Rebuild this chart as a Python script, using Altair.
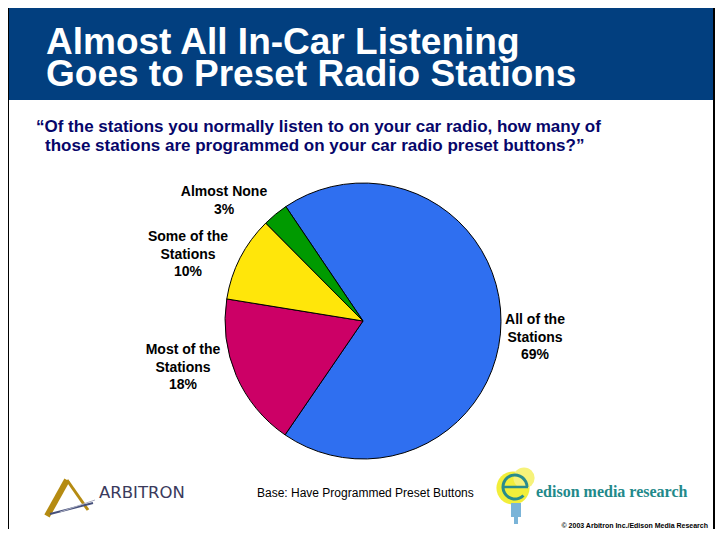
import math
import altair as alt
import pandas as pd

# ---- data ----
categories = ["All of the Stations", "Most of the Stations", "Some of the Stations", "Almost None"]
label_text = ["All of the\nStations", "Most of the\nStations", "Some of the\nStations", "Almost None"]
values = [69, 18, 10, 3]
slice_colors = ["#2F6FF0", "#CC0066", "#FFE60A", "#009A00"]

title_lines = ["Almost All In-Car Listening", "Goes to Preset Radio Stations"]
subtitle_lines = [
    "\u201cOf the stations you normally listen to on your car radio, how many of",
    "those stations are programmed on your car radio preset buttons?\u201d",
]
base_note = "Base: Have Programmed Preset Buttons"
copyright_note = "\u00a9 2003 Arbitron Inc./Edison Media Research"

df = pd.DataFrame({"category": categories, "label": label_text,
                   "value": values, "order": list(range(len(values)))})

# ---- layout helpers (page pixel -> chart pixel) ----
W, H = 707, 521
FONT = "Liberation Sans"


def X(px):
    return px - 8


def Y(py):
    return py - 8


one = pd.DataFrame({"k": [0]})


def rect(x1, y1, x2, y2, color, **kw):
    return alt.Chart(one).mark_rect(color=color, **kw).encode(
        x=alt.value(X(x1)), x2=alt.value(X(x2)), y=alt.value(Y(y1)), y2=alt.value(Y(y2)))


def rule(x1, y1, x2, y2, color, width, **kw):
    return alt.Chart(one).mark_rule(color=color, strokeWidth=width, **kw).encode(
        x=alt.value(X(x1)), x2=alt.value(X(x2)), y=alt.value(Y(y1)), y2=alt.value(Y(y2)))


def text(s, x, y, size, color="black", weight="normal", align="left",
         baseline="middle", font=FONT):
    return alt.Chart(one).mark_text(text=s, fontSize=size, color=color, fontWeight=weight,
                                    align=align, baseline=baseline, font=font).encode(
        x=alt.value(X(x)), y=alt.value(Y(y)))


# ---- slide frame & header ----
frame = [
    rect(9, 6, 714, 100, "#023F7F"),
    rule(8, 4, 8, 540, "black", 2),
    rule(714, 4, 714, 540, "black", 2),
]
title = [
    text(title_lines[0], 46, 54, 37, "white", "bold", baseline="alphabetic"),
    text(title_lines[1], 46, 86, 37, "white", "bold", baseline="alphabetic"),
]
subtitle = [
    text(subtitle_lines[0], 36, 127, 17, "#06066A", "bold"),
    text(subtitle_lines[1], 45, 146, 17, "#06066A", "bold"),
]

# ---- pie ----
OFF = -34 * math.pi / 180
pie = alt.Chart(df).mark_arc(outerRadius=138, stroke="black", strokeWidth=1).encode(
    theta=alt.Theta("value:Q", stack=True,
                    scale=alt.Scale(domain=[0, 100], range=[OFF, OFF + 2 * math.pi])),
    order=alt.Order("order:Q", sort="ascending"),
    color=alt.Color("category:N", scale=alt.Scale(domain=categories, range=slice_colors),
                    legend=None),
    x=alt.value(X(363)),
    y=alt.value(Y(321)),
)

# first-line centre of each label block
label_pos = {
    "All of the Stations": (535, 320),
    "Most of the Stations": (183, 350),
    "Some of the Stations": (188, 237),
    "Almost None": (224, 192),
}
labels = []
for cat in categories:
    px, py = label_pos[cat]
    labels.append(
        alt.Chart(df).transform_filter(alt.datum.category == cat)
        .transform_calculate(txt="datum.label + '\\n' + datum.value + '%'")
        .mark_text(lineBreak="\n", fontSize=14, fontWeight="bold", font=FONT,
                   align="center", baseline="middle", lineHeight=17.5, color="black")
        .encode(text="txt:N", x=alt.value(X(px)), y=alt.value(Y(py)))
    )

# ---- footer: logos & notes ----
arbitron = [
    rule(47, 516, 67, 480, "#B58B12", 6),
    rule(67, 480, 88, 510, "#B58B12", 3),
    rule(50, 514, 93, 503, "#46507A", 2),
    rule(60, 512, 95, 500, "#A8ACC0", 1),
    text("ARBITRON", 99, 493, 16.5, "#3A3A5C", "normal", font="DejaVu Sans"),
]
edison = [
    alt.Chart(one).mark_circle(size=1100, color="#F2EE3A", opacity=1).encode(
        x=alt.value(X(513)), y=alt.value(Y(488))),
    alt.Chart(one).mark_circle(size=450, color="#F6F27A", opacity=1).encode(
        x=alt.value(X(524)), y=alt.value(Y(478))),
    rect(511, 503, 521, 517, "#7AB4D8"),
    rect(514, 517, 518, 524, "#7AB4D8"),
    alt.Chart(one).mark_arc(innerRadius=10.5, outerRadius=13.5, color="#2A8C8C").encode(
        theta=alt.value(2.36), theta2=alt.value(7.85),
        x=alt.value(X(515)), y=alt.value(Y(487))),
    rule(502, 487, 528, 487, "#2A8C8C", 2.5),
    text("edison media research", 536, 492, 16, "#22898A", "bold", font="Liberation Serif"),
]
notes = [
    text(base_note, 257, 493, 12, "black"),
    text(copyright_note, 708, 526, 7, "black", "bold", align="right"),
]

chart = alt.layer(*frame, *title, *subtitle, pie, *labels, *arbitron, *edison, *notes).properties(
    width=W, height=H, padding=0, autosize=alt.AutoSizeParams(type="none"),
    background="white",
).configure_view(stroke=None)

chart.save("out.html", embed_options={"renderer": "svg", "actions": False})
